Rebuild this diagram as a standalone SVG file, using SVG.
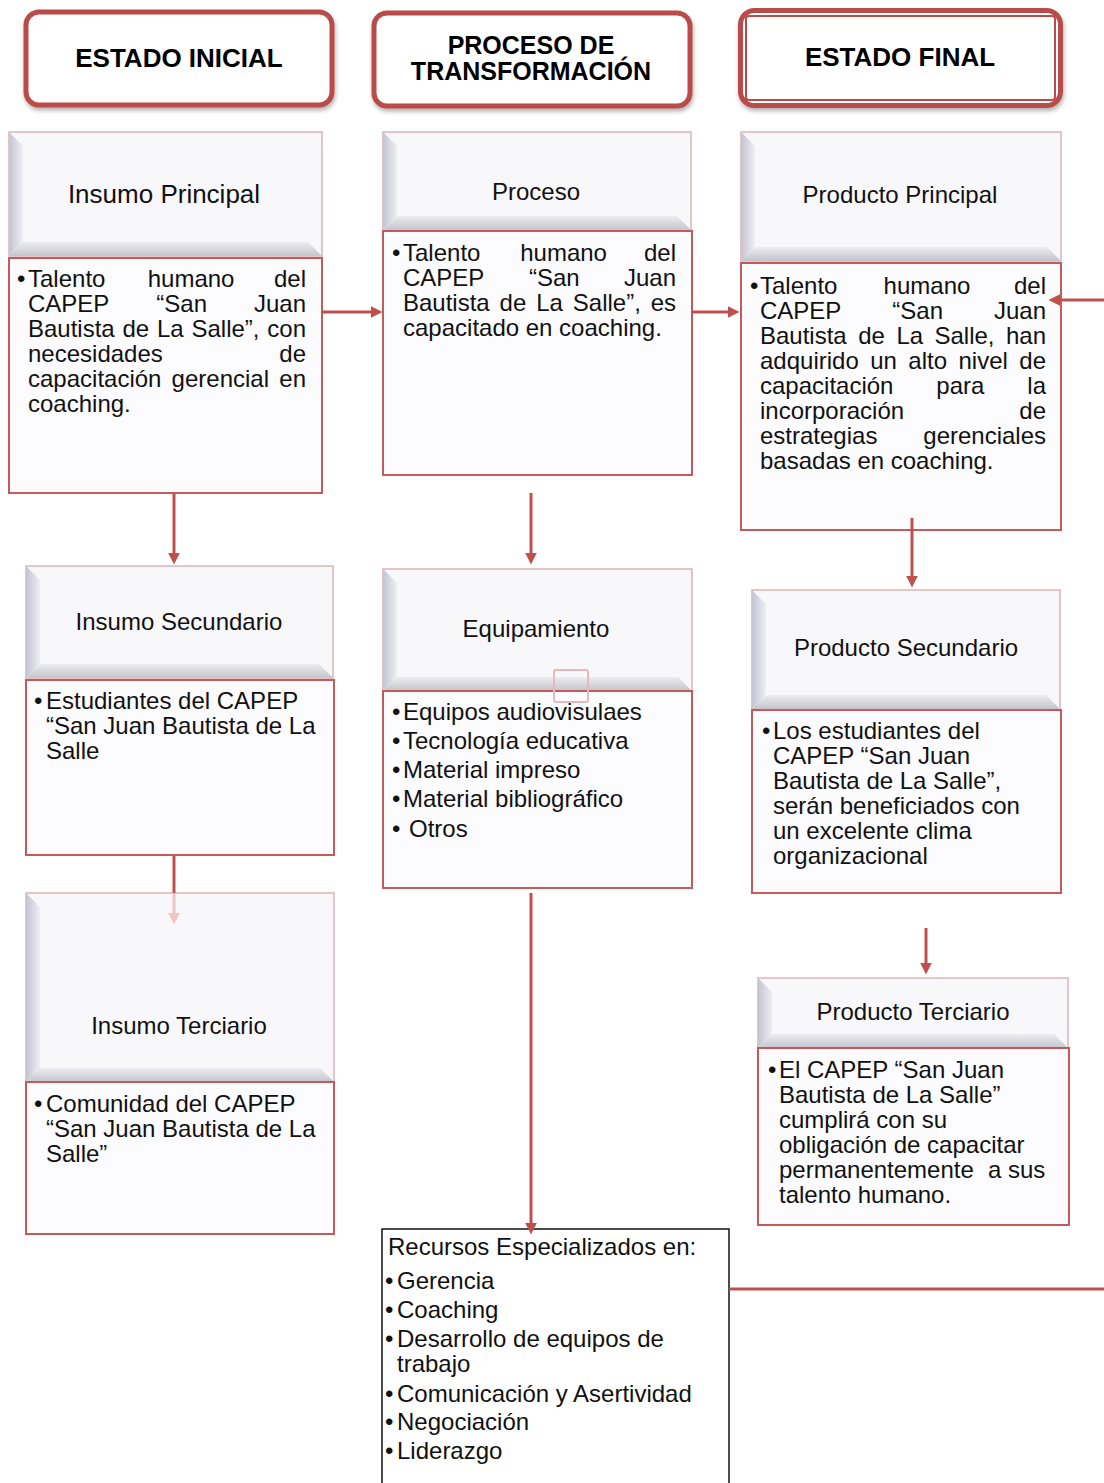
<svg xmlns="http://www.w3.org/2000/svg" width="1104" height="1483" viewBox="0 0 1104 1483">
<style>
.ttl{font-family:"Liberation Sans",Arial,sans-serif;font-weight:bold;font-size:25px;fill:#000;text-anchor:middle}
.hd{font-family:"Liberation Sans",Arial,sans-serif;font-size:24px;fill:#111;text-anchor:middle}
.bd{font-family:"Liberation Sans",Arial,sans-serif;font-size:24px;fill:#111}
.rc{font-family:"Liberation Sans",Arial,sans-serif;font-size:24px;fill:#111}
.tbox{fill:#fff;stroke:#b94c4a;stroke-width:5}
.hbox{fill:#f8f8fa;stroke:#dcb4b6;stroke-width:1.5}
.bl{fill:url(#gl)}
.bb{fill:url(#gb)}
.body{fill:#fcfbfd;stroke:#c55a5c;stroke-width:2}
.con{stroke:#c0504d;stroke-width:3;fill:none}
</style>
<defs>
<linearGradient id="gl" x1="0" y1="0" x2="1" y2="0">
<stop offset="0" stop-color="#c4c4d2"/>
<stop offset="1" stop-color="#eeeef3"/>
</linearGradient>
<linearGradient id="gb" x1="0" y1="0" x2="0" y2="1">
<stop offset="0" stop-color="#ececf1"/>
<stop offset="1" stop-color="#c4c4cc"/>
</linearGradient>
<filter id="sh" x="-5%" y="-10%" width="110%" height="130%">
<feDropShadow dx="1" dy="3" stdDeviation="2" flood-color="#000" flood-opacity="0.3"/>
</filter>
<marker id="ah" viewBox="0 0 10 10" refX="2" refY="5" markerWidth="12" markerHeight="12" markerUnits="userSpaceOnUse" orient="auto">
<path d="M0,0 L10,5 L0,10 z" fill="#c0504d"/>
</marker>
<marker id="ahf" viewBox="0 0 10 10" refX="2" refY="5" markerWidth="12" markerHeight="12" markerUnits="userSpaceOnUse" orient="auto">
<path d="M0,0 L10,5 L0,10 z" fill="#eec4c4"/>
</marker>
</defs>
<rect width="1104" height="1483" fill="#fff"/>

<g id="t-inicial">
<rect class="tbox" x="26" y="12" width="306" height="93" rx="13" filter="url(#sh)"/>
<text class="ttl" x="179" y="67" style="font-size:26px">ESTADO INICIAL</text>
</g>
<g id="t-proceso">
<rect class="tbox" x="374" y="13" width="316" height="93" rx="13" filter="url(#sh)"/>
<text class="ttl" x="531" y="54">PROCESO DE</text>
<text class="ttl" x="531" y="80">TRANSFORMACIÓN</text>
</g>
<g id="t-final">
<rect class="tbox" x="740.5" y="10.5" width="320" height="95" rx="14" filter="url(#sh)"/>
<rect x="746" y="16" width="309" height="84" rx="3" fill="none" stroke="#b94c4a" stroke-width="2"/>
<text class="ttl" x="900" y="66" style="font-size:26px">ESTADO FINAL</text>
</g>

<g id="insumo-principal">
<rect class="hbox" x="9" y="132" width="313" height="124"/>
<polygon class="bl" points="9,132 23,146 23,242 9,256"/>
<polygon class="bb" points="9,256 23,242 308,242 322,256"/>
<text class="hd" x="164" y="203" style="font-size:26px">Insumo Principal</text>
<rect class="body" x="9" y="258" width="313" height="235"/>
<text class="bd" x="17" y="287">•</text>
<text class="bd" y="287"><tspan x="28">Talento</tspan><tspan x="147.7">humano</tspan><tspan x="274">del</tspan></text>
<text class="bd" y="312"><tspan x="28">CAPEP</tspan><tspan x="156.3">“San</tspan><tspan x="254">Juan</tspan></text>
<text class="bd" y="337"><tspan x="28">Bautista</tspan><tspan x="122.5">de</tspan><tspan x="157">La</tspan><tspan x="191.5">Salle”,</tspan><tspan x="267.3">con</tspan></text>
<text class="bd" y="362"><tspan x="28">necesidades</tspan><tspan x="279.3">de</tspan></text>
<text class="bd" y="387"><tspan x="28">capacitación</tspan><tspan x="171.6">gerencial</tspan><tspan x="279.3">en</tspan></text>
<text class="bd" x="28" y="412">coaching.</text>
</g>

<g id="insumo-secundario">
<rect class="hbox" x="26" y="566" width="307" height="112"/>
<polygon class="bl" points="26,566 40,580 40,664 26,678"/>
<polygon class="bb" points="26,678 40,664 319,664 333,678"/>
<text class="hd" x="179" y="630">Insumo Secundario</text>
<rect class="body" x="26" y="680" width="308" height="175"/>
<text class="bd" x="34" y="709">•</text>
<text class="bd" x="46" y="709">Estudiantes del CAPEP</text>
<text class="bd" x="46" y="734">“San Juan Bautista de La</text>
<text class="bd" x="46" y="759">Salle</text>
</g>

<g id="insumo-terciario">
<rect class="hbox" x="26" y="893" width="308" height="189"/>
<polygon class="bl" points="26,893 40,907 40,1068 26,1082"/>
<polygon class="bb" points="26,1082 40,1068 320,1068 334,1082"/>
<text class="hd" x="179" y="1034">Insumo Terciario</text>
<rect class="body" x="26" y="1082" width="308" height="152"/>
<text class="bd" x="34" y="1112">•</text>
<text class="bd" x="46" y="1112">Comunidad del CAPEP</text>
<text class="bd" x="46" y="1137">“San Juan Bautista de La</text>
<text class="bd" x="46" y="1162">Salle”</text>
</g>

<g id="proceso">
<rect class="hbox" x="383" y="132" width="308" height="98"/>
<polygon class="bl" points="383,132 397,146 397,216 383,230"/>
<polygon class="bb" points="383,230 397,216 677,216 691,230"/>
<text class="hd" x="536" y="200">Proceso</text>
<rect class="body" x="383" y="231" width="309" height="244"/>
<text class="bd" x="392" y="261">•</text>
<text class="bd" y="261"><tspan x="403">Talento</tspan><tspan x="520.2">humano</tspan><tspan x="644">del</tspan></text>
<text class="bd" y="286"><tspan x="403">CAPEP</tspan><tspan x="528.9">“San</tspan><tspan x="624">Juan</tspan></text>
<text class="bd" y="311"><tspan x="403">Bautista</tspan><tspan x="499.6">de</tspan><tspan x="536.2">La</tspan><tspan x="572.8">Salle”,</tspan><tspan x="650.7">es</tspan></text>
<text class="bd" x="403" y="336">capacitado en coaching.</text>
</g>

<g id="equipamiento">
<rect class="hbox" x="383" y="569" width="309" height="122"/>
<polygon class="bl" points="383,569 397,583 397,677 383,691"/>
<polygon class="bb" points="383,691 397,677 678,677 692,691"/>
<text class="hd" x="536" y="637">Equipamiento</text>
<rect class="body" x="383" y="691" width="309" height="197"/>
<rect x="554" y="670" width="34" height="32" rx="2" fill="none" stroke="#e7b9bb" stroke-width="2"/>
<text class="bd" x="392" y="720">•</text><text class="bd" x="403" y="720">Equipos audiovisulaes</text>
<text class="bd" x="392" y="749">•</text><text class="bd" x="403" y="749">Tecnología educativa</text>
<text class="bd" x="392" y="778">•</text><text class="bd" x="403" y="778">Material impreso</text>
<text class="bd" x="392" y="807">•</text><text class="bd" x="403" y="807">Material bibliográfico</text>
<text class="bd" x="392" y="837">•</text><text class="bd" x="409" y="837">Otros</text>
</g>

<g id="recursos">
<rect x="382" y="1229" width="347" height="270" fill="#fff" stroke="#111" stroke-width="1.5"/>
<text class="rc" x="388" y="1255">Recursos Especializados en:</text>
<text class="rc" x="385" y="1289">•</text><text class="rc" x="397" y="1289">Gerencia</text>
<text class="rc" x="385" y="1318">•</text><text class="rc" x="397" y="1318">Coaching</text>
<text class="rc" x="385" y="1347">•</text><text class="rc" x="397" y="1347">Desarrollo de equipos de</text>
<text class="rc" x="397" y="1372">trabajo</text>
<text class="rc" x="385" y="1402">•</text><text class="rc" x="397" y="1402">Comunicación y Asertividad</text>
<text class="rc" x="385" y="1430">•</text><text class="rc" x="397" y="1430">Negociación</text>
<text class="rc" x="385" y="1459">•</text><text class="rc" x="397" y="1459">Liderazgo</text>
</g>

<g id="producto-principal">
<rect class="hbox" x="741" y="132" width="320" height="129"/>
<polygon class="bl" points="741,132 755,146 755,247 741,261"/>
<polygon class="bb" points="741,261 755,247 1047,247 1061,261"/>
<text class="hd" x="900" y="203">Producto Principal</text>
<rect class="body" x="741" y="263" width="320" height="267"/>
<text class="bd" x="750" y="294">•</text>
<text class="bd" y="294"><tspan x="760">Talento</tspan><tspan x="883.6">humano</tspan><tspan x="1014">del</tspan></text>
<text class="bd" y="319"><tspan x="760">CAPEP</tspan><tspan x="892.3">“San</tspan><tspan x="994">Juan</tspan></text>
<text class="bd" y="344"><tspan x="760">Bautista</tspan><tspan x="858.2">de</tspan><tspan x="896.4">La</tspan><tspan x="934.5">Salle,</tspan><tspan x="1006">han</tspan></text>
<text class="bd" y="369"><tspan x="760">adquirido</tspan><tspan x="870.2">un</tspan><tspan x="908.3">alto</tspan><tspan x="958.5">nivel</tspan><tspan x="1019.3">de</tspan></text>
<text class="bd" y="394"><tspan x="760">capacitación</tspan><tspan x="936.3">para</tspan><tspan x="1027.3">la</tspan></text>
<text class="bd" y="419"><tspan x="760">incorporación</tspan><tspan x="1019.3">de</tspan></text>
<text class="bd" y="444"><tspan x="760">estrategias</tspan><tspan x="923.3">gerenciales</tspan></text>
<text class="bd" x="760" y="469">basadas en coaching.</text>
</g>

<g id="producto-secundario">
<rect class="hbox" x="752" y="590" width="308" height="119"/>
<polygon class="bl" points="752,590 766,604 766,695 752,709"/>
<polygon class="bb" points="752,709 766,695 1046,695 1060,709"/>
<text class="hd" x="906" y="656">Producto Secundario</text>
<rect class="body" x="752" y="710" width="309" height="183"/>
<text class="bd" x="762" y="739">•</text>
<text class="bd" x="773" y="739">Los estudiantes del</text>
<text class="bd" x="773" y="764">CAPEP “San Juan</text>
<text class="bd" x="773" y="789">Bautista de La Salle”,</text>
<text class="bd" x="773" y="814">serán beneficiados con</text>
<text class="bd" x="773" y="839">un excelente clima</text>
<text class="bd" x="773" y="864">organizacional</text>
</g>

<g id="producto-terciario">
<rect class="hbox" x="758" y="978" width="310" height="70"/>
<polygon class="bl" points="758,978 772,992 772,1034 758,1048"/>
<polygon class="bb" points="758,1048 772,1034 1054,1034 1068,1048"/>
<text class="hd" x="913" y="1020">Producto Terciario</text>
<rect class="body" x="758" y="1048" width="311" height="177"/>
<text class="bd" x="768" y="1078">•</text>
<text class="bd" x="779" y="1078">El CAPEP “San Juan</text>
<text class="bd" x="779" y="1103">Bautista de La Salle”</text>
<text class="bd" x="779" y="1128">cumplirá con su</text>
<text class="bd" x="779" y="1153">obligación de capacitar</text>
<text class="bd" y="1178"><tspan x="779">permanentemente</tspan><tspan x="988">a sus</tspan></text>
<text class="bd" x="779" y="1203">talento humano.</text>
</g>

<g id="connectors">
<line class="con" x1="174" y1="494" x2="174" y2="555" marker-end="url(#ah)"/>
<line class="con" x1="174" y1="856" x2="174" y2="893"/>
<line x1="174" y1="893" x2="174" y2="915" stroke="#eec4c4" stroke-width="3" marker-end="url(#ahf)"/>
<line class="con" x1="322" y1="312" x2="373" y2="312" marker-end="url(#ah)"/>
<line class="con" x1="692" y1="312" x2="730" y2="312" marker-end="url(#ah)"/>
<line class="con" x1="531" y1="493" x2="531" y2="555" marker-end="url(#ah)"/>
<line class="con" x1="531" y1="893" x2="531" y2="1225" marker-end="url(#ah)"/>
<line class="con" x1="729" y1="1289" x2="1104" y2="1289"/>
<line class="con" x1="1104" y1="300" x2="1058" y2="300" marker-end="url(#ah)"/>
<line class="con" x1="912" y1="518" x2="912" y2="578" marker-end="url(#ah)"/>
<line class="con" x1="926" y1="928" x2="926" y2="965" marker-end="url(#ah)"/>
</g>
</svg>
